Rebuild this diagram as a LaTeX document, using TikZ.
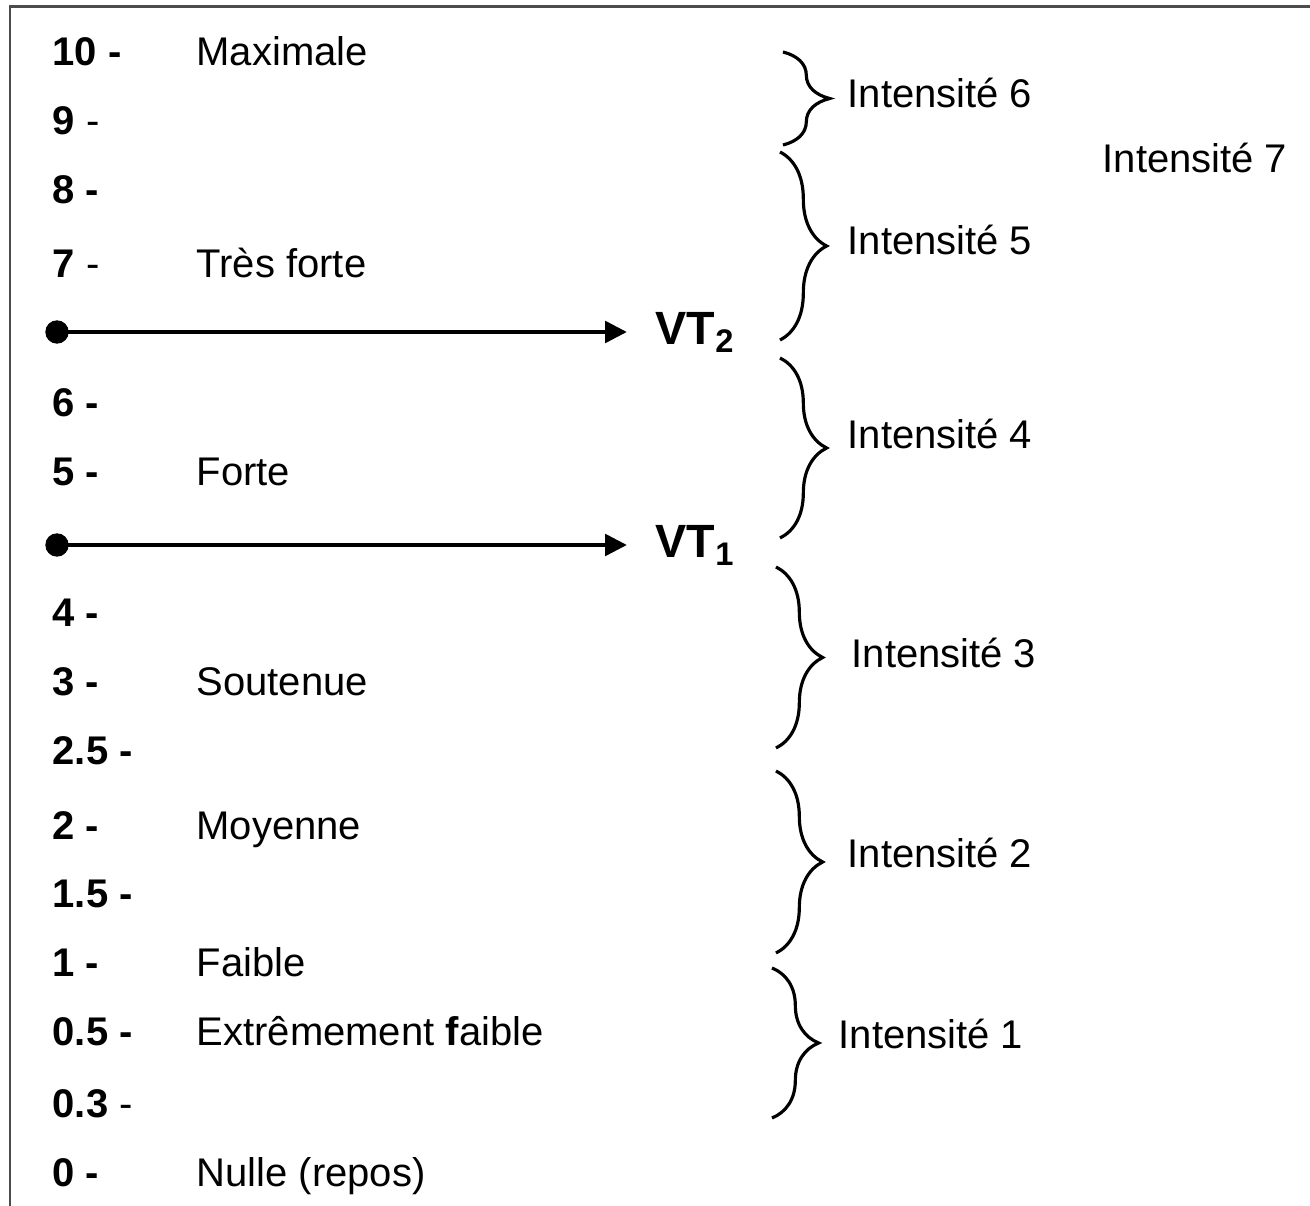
\documentclass[tikz,border=0pt]{standalone}
\usepackage{fontspec}
\setmainfont{Liberation Sans}
\usetikzlibrary{arrows.meta,decorations.pathreplacing}

\tikzset{
	num/.style={anchor=base west, inner sep=0pt},
	lbl/.style={anchor=base west, inner sep=0pt},
	intens/.style={anchor=west, inner sep=0pt},
	dot/.style={circle, fill=black, inner sep=0pt, minimum size=7pt},
	vtlab/.style={anchor=base west, inner sep=0pt, font=\fontsize{14}{16}\selectfont\bfseries},
	fleche/.style={line width=1.4pt, -{Triangle[length=6.6pt, width=6.4pt]}, shorten >=8.4pt},
	accolade/.style={decorate, decoration={brace, amplitude=14pt}, line width=0.95pt},
	cadre/.style={line width=0.9pt, color=black!70}
}

\begin{document}
\begin{tikzpicture}[x=0.3pt, y=-0.3pt, font=\fontsize{12}{14}\selectfont]
			%%%%% START %%%%%
			\useasboundingbox (0, 0) rectangle (1310, 1206);
			
			\draw[cadre] (10, 1206) -- (10, 7) -- (1310, 7);
			
			% echelle de gauche
			\node[num] (n10) at (52, 66) {\textbf{10 -}};
			\node[num] (n9) at (52, 135) {\textbf{9} -};
			\node[num] (n8) at (52, 204) {\textbf{8 -}};
			\node[num] (n7) at (52, 278) {\textbf{7} -};
			\node[num] (n6) at (52, 417) {\textbf{6 -}};
			\node[num] (n5) at (52, 486) {\textbf{5 -}};
			\node[num] (n4) at (52, 627) {\textbf{4 -}};
			\node[num] (n3) at (52, 696) {\textbf{3 -}};
			\node[num] (n25) at (52, 765) {\textbf{2.5 -}};
			\node[num] (n2) at (52, 840) {\textbf{2 -}};
			\node[num] (n15) at (52, 908) {\textbf{1.5 -}};
			\node[num] (n1) at (52, 977) {\textbf{1 -}};
			\node[num] (n05) at (52, 1046) {\textbf{0.5 -}};
			\node[num] (n03) at (52, 1118) {\textbf{0.3} -};
			\node[num] (n0) at (52, 1187) {\textbf{0 -}};
			
			\node[lbl] (maxi) at (196, 66) {Maximale};
			\node[lbl] (tfort) at (196, 278) {Très forte};
			\node[lbl] (fort) at (196, 486) {Forte};
			\node[lbl] (sout) at (196, 696) {Soutenue};
			\node[lbl] (moy) at (196, 840) {Moyenne};
			\node[lbl] (faib) at (196, 977) {Faible};
			\node[lbl] (efaib) at (196, 1046) {Extrêmement \textbf{f}aible};
			\node[lbl] (nul) at (196, 1187) {Nulle (repos)};
			
			% seuils
			\node[dot] (d2) at (57, 332) {};
			\node[vtlab] (vt2) at (655, 345) {VT\textsubscript{2}};
			\draw[fleche] (d2.center) -- (d2 -| vt2.west);
			
			\node[dot] (d1) at (57, 545) {};
			\node[vtlab] (vt1) at (655, 558) {VT\textsubscript{1}};
			\draw[fleche] (d1.center) -- (d1 -| vt1.west);
			
			% accolades
			\coordinate (b6h) at (783, 52);
			\coordinate (b6b) at (783, 145);
			\coordinate (b5h) at (780, 152);
			\coordinate (b5b) at (780, 340);
			\coordinate (b4h) at (780, 358);
			\coordinate (b4b) at (780, 538);
			\coordinate (b3h) at (776, 567);
			\coordinate (b3b) at (776, 748);
			\coordinate (b2h) at (776, 771);
			\coordinate (b2b) at (776, 953);
			\coordinate (b1h) at (772, 968);
			\coordinate (b1b) at (772, 1118);
			
			\draw[accolade] (b6h) -- (b6b);
			\draw[accolade] (b5h) -- (b5b);
			\draw[accolade] (b4h) -- (b4b);
			\draw[accolade] (b3h) -- (b3b);
			\draw[accolade] (b2h) -- (b2b);
			\draw[accolade] (b1h) -- (b1b);
			
			\node[intens] (i6) at (847, 93) {Intensité 6};
			\node[intens] (i5) at (847, 240) {Intensité 5};
			\node[intens] (i4) at (847, 434) {Intensité 4};
			\node[intens] (i3) at (851, 653) {Intensité 3};
			\node[intens] (i2) at (847, 853) {Intensité 2};
			\node[intens] (i1) at (838, 1034) {Intensité 1};
			\node[intens] (i7) at (1102, 158) {Intensité 7};
			
			%%%%% END %%%%%
\end{tikzpicture}
\end{document}
